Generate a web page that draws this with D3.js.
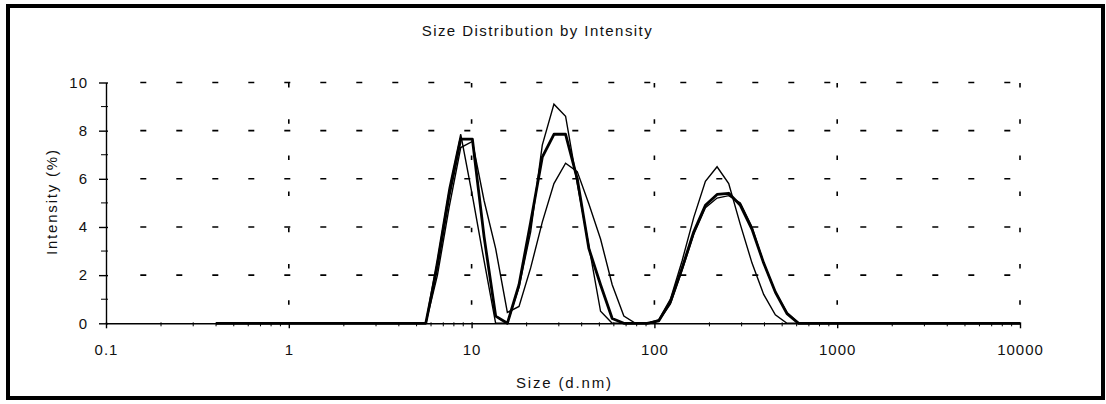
<!DOCTYPE html>
<html>
<head>
<meta charset="utf-8">
<script src="https://cdn.jsdelivr.net/npm/d3@7"></script>
<style>
  body { margin: 0; background: #fff; }
  text { font-family: "Liberation Sans", Arial, sans-serif; fill: #111; }
</style>
</head>
<body>
<script>
// size classes (d.nm)
var sizes = [0.4, 0.4632, 0.5365, 0.6213, 0.7195, 0.8332, 0.9649, 1.117, 1.294, 1.499,
  1.736, 2.010, 2.328, 2.696, 3.122, 3.615, 4.187, 4.849, 5.615, 6.503,
  7.531, 8.721, 10.10, 11.70, 13.54, 15.69, 18.17, 21.04, 24.36, 28.21,
  32.67, 37.84, 43.82, 50.75, 58.77, 68.06, 78.82, 91.28, 105.7, 122.4,
  141.8, 164.2, 190.1, 220.2, 255.0, 295.3, 342.0, 396.1, 458.7, 531.2,
  615.1, 712.4, 825.0, 955.4, 1106, 1281, 1484, 1718, 1990, 2305,
  2669, 3091, 3580, 4145, 4801, 5560, 6439, 7456, 8635, 10000];

// intensity (%) per size class
var record1 = [0, 0, 0, 0, 0, 0, 0, 0, 0, 0,
  0, 0, 0, 0, 0, 0, 0, 0, 0, 2.7,
  5.6, 7.85, 5.3, 2.6, 0, 0, 1.5, 3.8, 7.4, 9.1,
  8.6, 5.8, 3.2, 0.5, 0, 0, 0, 0, 0.15, 1.0,
  2.6, 4.4, 5.9, 6.5, 5.8, 4.1, 2.5, 1.2, 0.35, 0,
  0, 0, 0, 0, 0, 0, 0, 0, 0, 0,
  0, 0, 0, 0, 0, 0, 0, 0, 0, 0];

var record2 = [0, 0, 0, 0, 0, 0, 0, 0, 0, 0,
  0, 0, 0, 0, 0, 0, 0, 0, 0, 2.0,
  4.8, 7.3, 7.55, 5.1, 3.1, 0.45, 0.7, 2.3, 4.2, 5.8,
  6.65, 6.3, 4.95, 3.5, 1.6, 0.3, 0, 0, 0.1, 0.8,
  2.2, 3.7, 4.8, 5.2, 5.3, 5.0, 4.0, 2.5, 1.3, 0.45,
  0, 0, 0, 0, 0, 0, 0, 0, 0, 0,
  0, 0, 0, 0, 0, 0, 0, 0, 0, 0];

var record3 = [0, 0, 0, 0, 0, 0, 0, 0, 0, 0,
  0, 0, 0, 0, 0, 0, 0, 0, 0, 2.4,
  5.3, 7.65, 7.65, 3.6, 0.3, 0, 1.6, 4.2, 6.9, 7.85,
  7.85, 6.0, 3.1, 1.6, 0.2, 0, 0, 0, 0.1, 0.9,
  2.3, 3.8, 4.9, 5.35, 5.4, 4.9, 3.9, 2.5, 1.3, 0.4,
  0, 0, 0, 0, 0, 0, 0, 0, 0, 0,
  0, 0, 0, 0, 0, 0, 0, 0, 0, 0];

var xTicks = [0.1, 1, 10, 100, 1000, 10000];
var xTickLabels = ["0.1", "1", "10", "100", "1000", "10000"];
var yTicks = [0, 2, 4, 6, 8, 10];
var yMinorTicks = [1, 3, 5, 7, 9];

var width = 1106, height = 404;
var plot = {left: 106, right: 1020, top: 82.5, bottom: 323.3};

var svg = d3.select("body").append("svg")
  .attr("width", width)
  .attr("height", height);

svg.append("rect")
  .attr("width", width)
  .attr("height", height)
  .attr("fill", "#fff");

// frame round the whole report panel
svg.append("rect")
  .attr("x", 8).attr("y", 6)
  .attr("width", 1095).attr("height", 392)
  .attr("fill", "none")
  .attr("stroke", "#000")
  .attr("stroke-width", 4);

var x = d3.scaleLog()
  .domain([0.1, 10000])
  .range([plot.left, plot.right]);
var y = d3.scaleLinear()
  .domain([0, 10])
  .range([plot.bottom, plot.top]);

// dotted grid
var grid = svg.append("g").attr("stroke", "#000").attr("stroke-width", 1.6);
grid.selectAll(".hgrid")
  .data(yTicks.filter(function(d) { return d > 0; }))
  .enter().append("line")
    .attr("x1", 140.3).attr("x2", plot.right)
    .attr("y1", function(d) { return y(d); })
    .attr("y2", function(d) { return y(d); })
    .attr("stroke-dasharray", "6,30");
grid.selectAll(".vgrid")
  .data(xTicks.slice(1))
  .enter().append("line")
    .attr("x1", function(d) { return x(d); })
    .attr("x2", function(d) { return x(d); })
    .attr("y1", 83).attr("y2", plot.bottom - 2)
    .attr("stroke-dasharray", "4.5,31.7");

// distributions
var line = d3.line()
  .x(function(d) { return x(d[0]); })
  .y(function(d) { return y(d[1]); });

function pairs(values) {
  return sizes.map(function(s, i) { return [s, values[i]]; });
}

svg.append("path")
  .datum(pairs(record2))
  .attr("d", line)
  .attr("fill", "none")
  .attr("stroke", "#000")
  .attr("stroke-width", 1.4);
svg.append("path")
  .datum(pairs(record1))
  .attr("d", line)
  .attr("fill", "none")
  .attr("stroke", "#000")
  .attr("stroke-width", 1.4);
svg.append("path")
  .datum(pairs(record3))
  .attr("d", line)
  .attr("fill", "none")
  .attr("stroke", "#000")
  .attr("stroke-width", 2.8)
  .attr("stroke-linejoin", "round");

// y axis
var yAxis = svg.append("g")
  .attr("transform", "translate(" + plot.left + ",0)")
  .call(d3.axisLeft(y).tickValues(yTicks).tickSizeOuter(0).tickPadding(12));
yAxis.selectAll(".tick line").attr("x1", 2).attr("x2", -7);
yAxis.append("g").selectAll("line")
  .data(yMinorTicks)
  .enter().append("line")
    .attr("x1", 2).attr("x2", -5)
    .attr("y1", function(d) { return y(d); })
    .attr("y2", function(d) { return y(d); })
    .attr("stroke", "#000");

// x axis
var xAxis = svg.append("g")
  .attr("transform", "translate(0," + plot.bottom + ")")
  .call(d3.axisBottom(x).tickValues(xTicks)
    .tickFormat(function(d, i) { return xTickLabels[i]; })
    .tickSizeOuter(0));
xAxis.selectAll(".tick line").attr("y1", -1).attr("y2", 5);
xAxis.selectAll(".tick text").attr("y", 21);
xAxis.append("g").selectAll("line")
  .data(x.ticks().filter(function(d) { return xTicks.indexOf(d) < 0; }))
  .enter().append("line")
    .attr("x1", function(d) { return x(d); })
    .attr("x2", function(d) { return x(d); })
    .attr("y1", -1).attr("y2", 3)
    .attr("stroke", "#000");

svg.selectAll(".domain").attr("stroke-width", 1.4);
svg.selectAll(".tick line").attr("stroke-width", 1.4);
svg.selectAll(".tick text")
  .style("font-size", "15px")
  .style("letter-spacing", "1px")
  .attr("fill", "#111");

// titles
svg.append("text")
  .attr("x", 536.7).attr("y", 36)
  .attr("text-anchor", "middle")
  .attr("textLength", 230)
  .attr("lengthAdjust", "spacing")
  .style("font-size", "15px")
  .text("Size Distribution by Intensity");

svg.append("text")
  .attr("x", 563.5).attr("y", 388)
  .attr("text-anchor", "middle")
  .attr("textLength", 95)
  .attr("lengthAdjust", "spacing")
  .style("font-size", "15px")
  .text("Size (d.nm)");

svg.append("text")
  .attr("transform", "translate(57,202.5) rotate(-90)")
  .attr("text-anchor", "middle")
  .attr("textLength", 105)
  .attr("lengthAdjust", "spacing")
  .style("font-size", "15px")
  .text("Intensity (%)");
</script>
</body>
</html>
